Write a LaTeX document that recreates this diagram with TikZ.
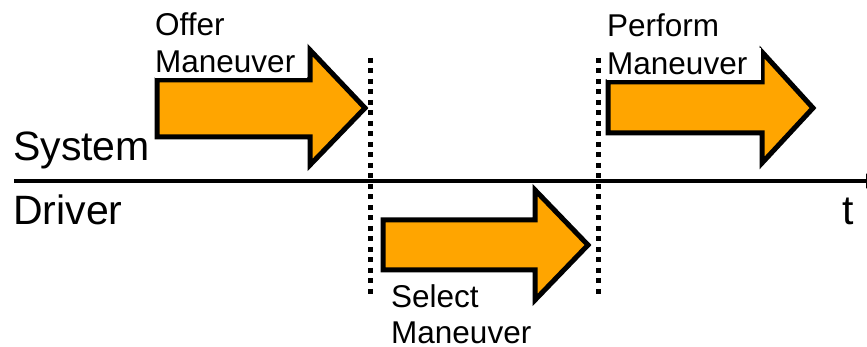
\documentclass[tikz,border=0pt]{standalone}
\usepackage{fontspec}
\setmainfont{Liberation Sans}
\usetikzlibrary{arrows.meta}
\definecolor{arroworange}{RGB}{255,165,0}
\begin{document}
\begin{tikzpicture}[x=1pt,y=-1pt,
  phase/.style={draw=black, fill=arroworange, line width=5pt, line join=miter},
  lbl/.style={font=\fontsize{31.5}{37}\selectfont, inner sep=0pt, anchor=base west},
  boxlbl/.style={lbl, fill=white, text width=#1, inner xsep=0pt, inner ysep=5pt},
  side/.style={font=\fontsize{41}{48}\selectfont, inner sep=0pt, anchor=base west},
  divider/.style={line width=5pt, dash pattern=on 5pt off 5.5pt},
  timeline/.style={line width=4.5pt, -{Triangle[length=14pt,width=14pt]}}]
\useasboundingbox (0,0) rectangle (867,347);
\clip (0,0) rectangle (867,347);

% phase arrows
\draw[phase] (157,80) -- (310,80) -- (310,50) -- (365,108) -- (310,165) -- (310,137) -- (157,137) -- cycle;
\draw[phase] (383,220) -- (535,220) -- (535,190) -- (588,245) -- (535,300) -- (535,270) -- (383,270) -- cycle;
\draw[phase] (608,82) -- (762,82) -- (762,52) -- (813,108) -- (762,163) -- (762,133) -- (608,133) -- cycle;

% phase labels
\node[lbl] (offer1) at (155,36) {Offer};
\node[boxlbl=152pt] (offer2) at (155,73) {Maneuver};
\node[lbl] (select1) at (391,307) {Select};
\node[lbl] (select2) at (391,343) {Maneuver};
\node[lbl] (perform1) at (607,37) {Perform};
\node[boxlbl=154pt] (perform2) at (607,75) {Maneuver};

% actor labels
\node[side] (system) at (13,161) {System};
\node[side] (driver) at (13,225) {Driver};
\node[side] (time) at (842,225) {t};

% phase boundaries
\coordinate (b1top) at (370,58);
\coordinate (b1bot) at (370,298);
\coordinate (b2top) at (598,58);
\coordinate (b2bot) at (598,298);
\draw[divider] (b1top) -- (b1bot);
\draw[divider] (b2top) -- (b2bot);

% time axis
\coordinate (tstart) at (14,181);
\coordinate (tend) at (880,181);
\draw[timeline] (tstart) -- (tend);
\end{tikzpicture}
\end{document}
